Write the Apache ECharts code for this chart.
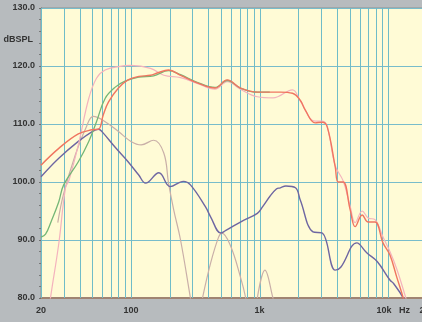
<!DOCTYPE html>
<html>
<head>
<meta charset="utf-8">
<script src="https://cdn.jsdelivr.net/npm/echarts@6/dist/echarts.min.js"></script>
<style>
  html, body { margin: 0; padding: 0; }
  #chart { width: 422px; height: 322px; }
</style>
</head>
<body>
<div id="chart"></div>
<script>
// vertical grid lines (Hz)
let gridHz = [20, 30, 40, 50, 60, 70, 80, 90, 100, 200, 300, 400, 500, 600, 700, 800, 900,
  1000, 2000, 3000, 4000, 5000, 6000, 7000, 8000, 9000, 10000, 20000];
let yTicks = [80, 90, 100, 110, 120, 130];

// on-axis response (red)
let redHz = [20, 27.5, 39, 50, 56, 61, 67, 80, 95, 115, 142, 160, 196, 243, 327, 450, 560, 710, 960, 1450, 1800, 2070, 2265, 2700, 3070, 3356, 3870, 4080, 4460, 5060, 5530, 6270, 6980, 7890, 9100, 10300, 11640, 13060, 14500];
let redDb = [102.9, 105.8, 108.3, 109.0, 109.1, 111.6, 113.8, 116.2, 117.6, 118.2, 118.4, 118.8, 119.3, 118.4, 117.1, 116.2, 117.6, 116.2, 115.5, 115.5, 115.3, 114.1, 112.4, 110.2, 110.3, 109.5, 102.6, 100.0, 100.0, 95.2, 92.3, 94.3, 93.1, 93.1, 89.5, 87.4, 83.6, 80.0, 76.0];

// green
let greenHz = [20, 21.7, 24, 27.5, 30, 39, 47, 54, 63, 76, 90, 115, 150, 196, 243, 327, 450, 560, 710, 960, 1200];
let greenDb = [90.5, 91.0, 93.2, 96.6, 99.5, 103.5, 107.0, 110.4, 114.4, 116.4, 117.4, 118.1, 118.3, 119.2, 118.5, 117.2, 116.3, 117.5, 116.2, 115.5, 115.5];

// light pink
let pinkHz = [22.5, 23.7, 27.5, 31, 33, 39, 47, 54, 63, 80, 100, 142, 180, 243, 327, 450, 560, 710, 960, 1270, 1800, 2070, 2700, 3070, 3356, 3870, 4460, 5060, 5530, 6270, 6980, 7890, 9100, 10300, 11640, 13700, 15000];
let pinkDb = [76.0, 80.0, 89.4, 99.0, 100.3, 106.4, 114.4, 117.9, 119.3, 119.9, 120.1, 119.6, 118.4, 118.0, 117.0, 116.0, 117.3, 116.0, 114.7, 114.5, 115.9, 114.0, 110.5, 110.5, 109.5, 102.8, 100.2, 95.8, 93.0, 95.0, 93.8, 93.5, 90.5, 88.0, 85.0, 80.0, 77.0];

// grey (woofer lobes)
let greyHz = [27, 30, 37, 45, 51, 63, 80, 100, 120, 150, 180, 196, 215, 243, 290, 300, 330, 360, 416, 480, 510, 594, 710, 780, 800, 900, 960, 1100, 1270, 1300];
let greyDb = [93.0, 98.0, 104.7, 109.5, 111.3, 110.4, 108.7, 107.0, 106.4, 107.2, 105.0, 99.8, 95.2, 90.0, 80.0, 78.0, null, 80.0, 86.0, 90.5, 91.2, 89.0, 83.6, 80.0, 78.0, null, 80.0, 84.8, 80.0, 79.0];

// purple
let purpleHz = [20, 27.5, 39, 50, 56, 60, 76, 95, 115, 130, 165, 202, 256, 290, 380, 416, 500, 543, 750, 960, 1060, 1200, 1350, 1450, 1600, 1900, 2070, 2600, 3070, 3870, 4270, 5700, 6800, 8200, 10300, 11000, 13060, 14000];
let purpleDb = [100.9, 104.1, 107.0, 108.7, 109.1, 108.6, 105.9, 103.5, 101.2, 99.8, 101.6, 99.2, 100.1, 99.5, 95.7, 94.0, 91.2, 91.6, 93.4, 94.6, 95.8, 97.5, 98.8, 99.0, 99.3, 99.0, 96.9, 91.4, 91.2, 84.8, 85.3, 89.5, 87.8, 86.3, 83.1, 82.5, 80.0, 78.0];

function pairs(xs, ys) {
  return xs.map(function (x, i) { return [x, ys[i] == null ? '-' : ys[i]]; });
}

let yMin = yTicks[0];
let yMax = yTicks[yTicks.length - 1];

// crisp vertical rules, placed through the log axis
function renderRule(params, api) {
  let top = api.coord([api.value(0), yMax]);
  let bottom = api.coord([api.value(0), yMin]);
  let x = Math.round(top[0]) + 0.5;
  return {
    type: 'line',
    shape: { x1: x, y1: top[1], x2: x, y2: bottom[1] },
    style: { stroke: '#6fbcc8', lineWidth: 1 },
  };
}

let chart = echarts.init(document.getElementById('chart'), null, { renderer: 'canvas' });

let labelFont = '"Liberation Sans Narrow", "Liberation Sans", sans-serif';

let option = {
  animation: false,
  backgroundColor: '#b7bbbe',
  grid: {
    left: 41,
    top: 8,
    right: -5,
    bottom: 24,
    outerBoundsMode: 'none',
    show: true,
    backgroundColor: '#fffbd6',
    borderColor: '#8d9092',
    borderWidth: 1,
  },
  xAxis: {
    type: 'log',
    logBase: 10,
    min: 20,
    max: 20000,
    axisLine: { show: true, lineStyle: { color: '#a08472', width: 2 } },
    axisTick: { show: false },
    splitLine: { show: false },
    axisLabel: {
      color: '#333',
      fontFamily: labelFont,
      fontWeight: 'bold',
      fontSize: 9,
      margin: 8,
      formatter: function (v) {
        if (v >= 10000 && v < 20000) return '{hz|10k   Hz}';
        if (v >= 1000) return Math.round(v / 1000) + 'k';
        return Math.round(v) + '';
      },
      rich: {
        hz: {
          color: '#333',
          fontFamily: labelFont,
          fontWeight: 'bold',
          fontSize: 9,
          padding: [0, 0, 0, 10],
        },
      },
    },
  },
  yAxis: {
    type: 'value',
    min: yMin,
    max: yMax,
    interval: 10,
    name: 'dBSPL',
    nameLocation: 'end',
    nameGap: -36,
    nameTextStyle: {
      color: '#333',
      fontFamily: labelFont,
      fontWeight: 'bold',
      fontSize: 9,
      align: 'right',
      padding: [0, 8, 0, 0],
    },
    axisLine: { show: true, lineStyle: { color: '#6f6f6f', width: 1 } },
    axisTick: { show: true, length: 2, lineStyle: { color: '#6f6f6f' } },
    minorTick: { show: true, splitNumber: 5, length: 2, lineStyle: { color: '#777' } },
    splitLine: { show: true, lineStyle: { color: '#78bccb', width: 1 } },
    axisLabel: {
      color: '#333',
      fontFamily: labelFont,
      fontWeight: 'bold',
      fontSize: 9,
      margin: 6,
      formatter: function (v) { return v.toFixed(1); },
    },
  },
  series: [
    {
      name: 'grid',
      type: 'custom',
      z: 1,
      silent: true,
      renderItem: renderRule,
      encode: { x: 0, y: 1 },
      data: gridHz.map(function (f) { return [f, yMin]; }),
    },
    {
      name: 'grey',
      type: 'line',
      z: 3,
      smooth: 0.4,
      showSymbol: false,
      connectNulls: false,
      data: pairs(greyHz, greyDb),
      lineStyle: { color: '#c9afa8', width: 1.2 },
    },
    {
      name: 'purple',
      type: 'line',
      z: 4,
      smooth: 0.4,
      showSymbol: false,
      data: pairs(purpleHz, purpleDb),
      lineStyle: { color: '#6e66a2', width: 1.4 },
    },
    {
      name: 'pink',
      type: 'line',
      z: 5,
      smooth: 0.4,
      showSymbol: false,
      data: pairs(pinkHz, pinkDb),
      lineStyle: { color: '#f4b2bd', width: 1.2 },
    },
    {
      name: 'green',
      type: 'line',
      z: 6,
      smooth: 0.4,
      showSymbol: false,
      data: pairs(greenHz, greenDb),
      lineStyle: { color: '#74b676', width: 1.3 },
    },
    {
      name: 'red',
      type: 'line',
      z: 7,
      smooth: 0.4,
      showSymbol: false,
      data: pairs(redHz, redDb),
      lineStyle: { color: '#f07560', width: 1.4 },
    },
  ],
};

chart.setOption(option);
</script>
</body>
</html>
